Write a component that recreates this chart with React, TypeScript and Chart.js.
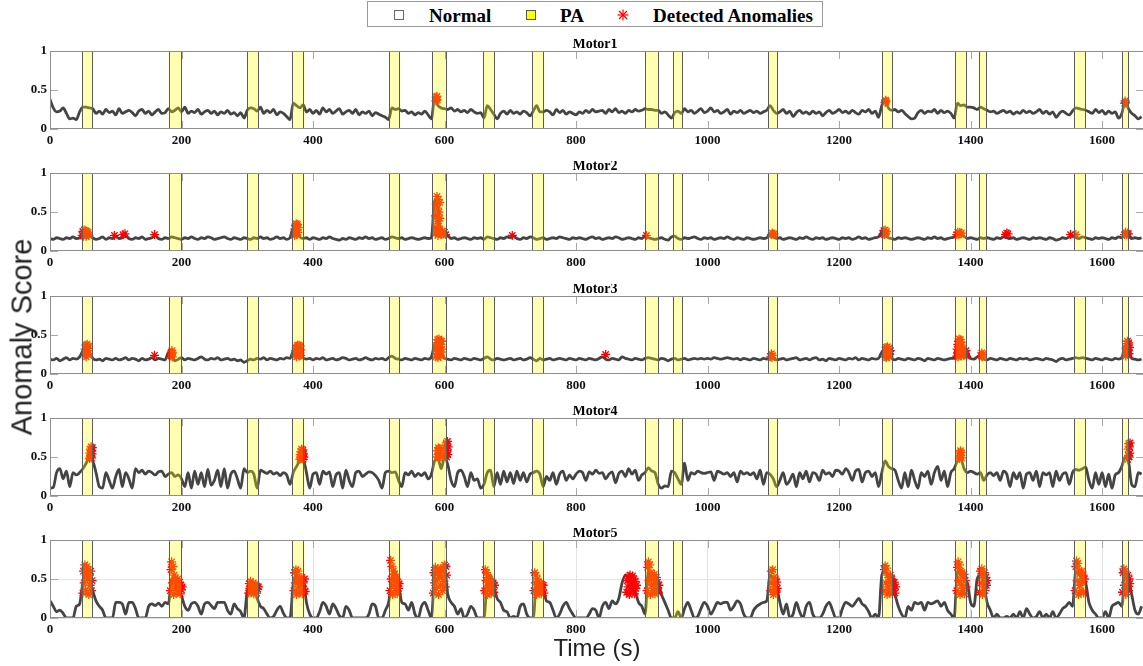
import React, { useEffect, useRef } from "react";
import { Chart, registerables } from "chart.js";

Chart.register(...registerables);

// ---------------- DATA ----------------
const STEP = 5; // seconds between score samples
const X_MAX = 1664;
const xTicks = [0, 200, 400, 600, 800, 1000, 1200, 1400, 1600];
const yTicks = [0, 0.5, 1];
const motorNames = ["Motor1", "Motor2", "Motor3", "Motor4", "Motor5"];

// PA (positive anomaly) intervals, seconds
const paStart = [48, 180.5, 299.5, 367.5, 515.5, 581, 658.5, 733.5, 905.5, 947, 1091.5, 1265, 1377, 1412.5, 1556.5, 1629.5];
const paEnd = [65.5, 200, 317.5, 387, 532.5, 603.5, 676.5, 751.5, 925.5, 962.5, 1107, 1282, 1395, 1425, 1575.5, 1641];

const scores1 = [
  0.38, 0.27, 0.22, 0.23, 0.27, 0.2, 0.13, 0.14, 0.12, 0.22, 0.28, 0.28, 0.27, 0.26, 0.2, 0.23, 0.19, 0.25, 0.21, 0.23,
  0.18, 0.26, 0.2, 0.22, 0.24, 0.21, 0.17, 0.23, 0.25, 0.2, 0.23, 0.18, 0.22, 0.25, 0.2, 0.21, 0.26, 0.22, 0.24, 0.27,
  0.22, 0.28, 0.2, 0.23, 0.21, 0.25, 0.19, 0.22, 0.24, 0.2, 0.23, 0.18, 0.22, 0.2, 0.24, 0.19, 0.21, 0.17, 0.21, 0.14,
  0.24, 0.27, 0.26, 0.23, 0.28, 0.2, 0.24, 0.21, 0.25, 0.18, 0.22, 0.2, 0.16, 0.12, 0.33, 0.3, 0.27, 0.31, 0.22, 0.25,
  0.2, 0.24, 0.19, 0.27, 0.22, 0.25, 0.2, 0.23, 0.26, 0.19, 0.22, 0.24, 0.2, 0.25, 0.18, 0.22, 0.2, 0.23, 0.17, 0.21,
  0.19, 0.17, 0.15, 0.12, 0.27, 0.25, 0.26, 0.23, 0.24, 0.2, 0.22, 0.18, 0.21, 0.19, 0.23, 0.18, 0.13, 0.4, 0.3, 0.27,
  0.26, 0.25, 0.27, 0.23, 0.25, 0.22, 0.24, 0.21, 0.25, 0.22, 0.2, 0.21, 0.14, 0.3, 0.25, 0.19, 0.13, 0.2, 0.23, 0.19,
  0.24, 0.2, 0.22, 0.19, 0.23, 0.21, 0.17, 0.23, 0.3, 0.22, 0.22, 0.24, 0.22, 0.18, 0.25, 0.21, 0.24, 0.19, 0.22, 0.2,
  0.18, 0.22, 0.2, 0.24, 0.21, 0.25, 0.22, 0.23, 0.24, 0.2, 0.25, 0.22, 0.26, 0.21, 0.23, 0.2, 0.24, 0.22, 0.25, 0.23,
  0.24, 0.26, 0.25, 0.25, 0.24, 0.24, 0.2, 0.22, 0.18, 0.14, 0.21, 0.23, 0.2, 0.26, 0.22, 0.24, 0.2, 0.23, 0.26, 0.21,
  0.23, 0.27, 0.22, 0.24, 0.2, 0.22, 0.25, 0.19, 0.23, 0.21, 0.24, 0.2, 0.22, 0.24, 0.21, 0.23, 0.2, 0.22, 0.24, 0.3,
  0.24, 0.2, 0.22, 0.25, 0.2, 0.23, 0.16, 0.21, 0.24, 0.2, 0.22, 0.19, 0.23, 0.2, 0.22, 0.17, 0.21, 0.24, 0.2, 0.22,
  0.25, 0.21, 0.23, 0.2, 0.24, 0.21, 0.19, 0.24, 0.22, 0.25, 0.2, 0.23, 0.15, 0.3, 0.36, 0.27, 0.24, 0.25, 0.22, 0.24,
  0.2, 0.16, 0.13, 0.14, 0.21, 0.24, 0.2, 0.23, 0.22, 0.25, 0.2, 0.24, 0.21, 0.23, 0.2, 0.14, 0.33, 0.3, 0.31, 0.28,
  0.28, 0.27, 0.25, 0.28, 0.26, 0.24, 0.22, 0.23, 0.2, 0.22, 0.24, 0.21, 0.23, 0.19, 0.22, 0.2, 0.24, 0.21, 0.23, 0.2,
  0.22, 0.25, 0.2, 0.23, 0.19, 0.22, 0.15, 0.2, 0.23, 0.2, 0.18, 0.23, 0.27, 0.26, 0.25, 0.24, 0.22, 0.2, 0.25, 0.21,
  0.24, 0.19, 0.23, 0.2, 0.22, 0.14, 0.2, 0.35, 0.26, 0.2, 0.17, 0.13, 0.16,
];

const scores2 = [
  0.16, 0.15, 0.17, 0.16, 0.15, 0.17, 0.16, 0.18, 0.16, 0.17, 0.22, 0.24, 0.2, 0.17, 0.15, 0.16, 0.18, 0.15, 0.17, 0.16,
  0.19, 0.16, 0.17, 0.2, 0.16, 0.15, 0.17, 0.16, 0.18, 0.15, 0.16, 0.17, 0.2, 0.16, 0.15, 0.17, 0.16, 0.18, 0.17, 0.16,
  0.15, 0.17, 0.16, 0.18, 0.16, 0.15, 0.17, 0.16, 0.18, 0.17, 0.15, 0.16, 0.17, 0.18, 0.16, 0.15, 0.17, 0.16, 0.15, 0.17,
  0.16, 0.15, 0.17, 0.16, 0.18, 0.16, 0.17, 0.15, 0.16, 0.18, 0.16, 0.17, 0.15, 0.17, 0.3, 0.28, 0.18, 0.16, 0.17, 0.15,
  0.17, 0.16, 0.15, 0.17, 0.16, 0.18, 0.16, 0.15, 0.14, 0.16, 0.15, 0.17, 0.16, 0.15, 0.17, 0.16, 0.18, 0.16, 0.17, 0.15,
  0.16, 0.17, 0.15, 0.16, 0.18, 0.17, 0.16, 0.17, 0.15, 0.16, 0.17, 0.16, 0.15, 0.16, 0.17, 0.16, 0.17, 0.65, 0.5, 0.23,
  0.22, 0.2, 0.16, 0.17, 0.15, 0.16, 0.17, 0.16, 0.15, 0.17, 0.16, 0.17, 0.15, 0.18, 0.17, 0.16, 0.15, 0.17, 0.16, 0.18,
  0.17, 0.19, 0.16, 0.15, 0.17, 0.16, 0.18, 0.17, 0.15, 0.16, 0.17, 0.15, 0.16, 0.17, 0.16, 0.18, 0.17, 0.16, 0.15, 0.17,
  0.16, 0.17, 0.16, 0.15, 0.17, 0.18, 0.16, 0.17, 0.15, 0.16, 0.17, 0.16, 0.18, 0.17, 0.15, 0.16, 0.17, 0.16, 0.15, 0.17,
  0.16, 0.19, 0.17, 0.16, 0.15, 0.16, 0.17, 0.15, 0.14, 0.18, 0.19, 0.16, 0.15, 0.17, 0.16, 0.17, 0.18, 0.16, 0.15, 0.17,
  0.16, 0.17, 0.15, 0.16, 0.17, 0.16, 0.18, 0.16, 0.15, 0.17, 0.16, 0.15, 0.17, 0.16, 0.15, 0.16, 0.17, 0.16, 0.17, 0.21,
  0.18, 0.16, 0.17, 0.15, 0.16, 0.17, 0.16, 0.15, 0.17, 0.16, 0.18, 0.16, 0.15, 0.17, 0.16, 0.17, 0.15, 0.16, 0.17, 0.16,
  0.15, 0.17, 0.16, 0.17, 0.15, 0.16, 0.18, 0.16, 0.17, 0.15, 0.16, 0.17, 0.18, 0.24, 0.2, 0.17, 0.16, 0.15, 0.17, 0.16,
  0.17, 0.16, 0.15, 0.16, 0.17, 0.16, 0.15, 0.17, 0.16, 0.18, 0.16, 0.17, 0.15, 0.16, 0.17, 0.18, 0.22, 0.21, 0.19, 0.16,
  0.17, 0.16, 0.15, 0.17, 0.16, 0.17, 0.16, 0.15, 0.17, 0.16, 0.18, 0.17, 0.16, 0.17, 0.15, 0.16, 0.17, 0.16, 0.15, 0.17,
  0.16, 0.17, 0.16, 0.15, 0.17, 0.16, 0.14, 0.15, 0.17, 0.16, 0.18, 0.19, 0.17, 0.16, 0.18, 0.17, 0.16, 0.15, 0.17, 0.16,
  0.17, 0.16, 0.15, 0.17, 0.16, 0.18, 0.17, 0.22, 0.19, 0.16, 0.17, 0.16, 0.17,
];

const scores3 = [
  0.19, 0.18, 0.2, 0.17, 0.19, 0.21, 0.18, 0.2, 0.19, 0.22, 0.3, 0.35, 0.28, 0.2, 0.18, 0.19, 0.17, 0.2, 0.19, 0.18,
  0.2, 0.18, 0.19, 0.21, 0.18, 0.2, 0.19, 0.17, 0.2, 0.18, 0.19, 0.21, 0.18, 0.2, 0.19, 0.18, 0.27, 0.25, 0.17, 0.19,
  0.21, 0.18, 0.2, 0.19, 0.18, 0.2, 0.22, 0.19, 0.18, 0.2, 0.19, 0.21, 0.18, 0.19, 0.2, 0.18, 0.19, 0.17, 0.18, 0.15,
  0.17, 0.19, 0.18, 0.2, 0.19, 0.21, 0.18, 0.2, 0.19, 0.18, 0.2, 0.19, 0.21, 0.2, 0.3, 0.33, 0.3, 0.21, 0.19, 0.2,
  0.18, 0.2, 0.19, 0.21, 0.18, 0.19, 0.2, 0.18, 0.19, 0.21, 0.2, 0.18, 0.19, 0.2, 0.18, 0.19, 0.21, 0.19, 0.18, 0.2,
  0.19, 0.2, 0.18, 0.21, 0.23, 0.2, 0.19, 0.18, 0.2, 0.19, 0.18, 0.2, 0.19, 0.18, 0.2, 0.19, 0.22, 0.38, 0.42, 0.3,
  0.2, 0.19, 0.18, 0.2, 0.19, 0.18, 0.2, 0.19, 0.18, 0.2, 0.19, 0.18, 0.2, 0.22, 0.19, 0.18, 0.2, 0.19, 0.18, 0.19,
  0.2, 0.18, 0.19, 0.2, 0.18, 0.19, 0.21, 0.19, 0.17, 0.2, 0.18, 0.19, 0.2, 0.18, 0.19, 0.2, 0.19, 0.18, 0.2, 0.19,
  0.18, 0.2, 0.19, 0.18, 0.2, 0.19, 0.18, 0.2, 0.22, 0.19, 0.18, 0.2, 0.19, 0.18, 0.22, 0.2, 0.19, 0.18, 0.2, 0.19,
  0.18, 0.2, 0.21, 0.2, 0.19, 0.18, 0.2, 0.19, 0.17, 0.19, 0.2, 0.18, 0.19, 0.2, 0.18, 0.19, 0.2, 0.19, 0.2, 0.19,
  0.2, 0.19, 0.21, 0.2, 0.19, 0.2, 0.21, 0.2, 0.19, 0.2, 0.18, 0.2, 0.19, 0.18, 0.2, 0.19, 0.18, 0.2, 0.19, 0.22,
  0.2, 0.18, 0.19, 0.2, 0.18, 0.19, 0.2, 0.21, 0.18, 0.19, 0.2, 0.18, 0.2, 0.21, 0.18, 0.19, 0.17, 0.2, 0.19, 0.18,
  0.2, 0.19, 0.18, 0.2, 0.19, 0.21, 0.18, 0.2, 0.19, 0.18, 0.2, 0.19, 0.2, 0.28, 0.3, 0.27, 0.2, 0.18, 0.2, 0.19,
  0.18, 0.2, 0.19, 0.18, 0.2, 0.19, 0.17, 0.2, 0.19, 0.18, 0.2, 0.19, 0.18, 0.19, 0.2, 0.2, 0.38, 0.4, 0.3, 0.27,
  0.2, 0.19, 0.22, 0.24, 0.19, 0.18, 0.2, 0.19, 0.18, 0.2, 0.19, 0.18, 0.2, 0.19, 0.18, 0.2, 0.19, 0.2, 0.18, 0.19,
  0.2, 0.19, 0.18, 0.2, 0.19, 0.18, 0.16, 0.19, 0.2, 0.18, 0.19, 0.2, 0.21, 0.2, 0.21, 0.2, 0.19, 0.18, 0.2, 0.19,
  0.18, 0.2, 0.19, 0.18, 0.2, 0.19, 0.21, 0.35, 0.3, 0.2, 0.19, 0.18, 0.19,
];

const scores4 = [
  0.1, 0.11, 0.3, 0.35, 0.22, 0.32, 0.12, 0.3, 0.27, 0.3, 0.35, 0.42, 0.5, 0.45, 0.3, 0.12, 0.1, 0.3, 0.2, 0.1,
  0.25, 0.34, 0.12, 0.3, 0.22, 0.1, 0.35, 0.3, 0.33, 0.28, 0.32, 0.3, 0.27, 0.31, 0.32, 0.25, 0.28, 0.3, 0.25, 0.27,
  0.22, 0.12, 0.3, 0.1, 0.32, 0.15, 0.3, 0.12, 0.34, 0.14, 0.2, 0.33, 0.12, 0.35, 0.1, 0.28, 0.32, 0.22, 0.1, 0.35,
  0.3, 0.32, 0.28, 0.1, 0.33, 0.31, 0.29, 0.32, 0.28, 0.3, 0.26, 0.3, 0.27, 0.15, 0.3, 0.38, 0.45, 0.47, 0.3, 0.1,
  0.28, 0.3, 0.15, 0.32, 0.28, 0.31, 0.12, 0.27, 0.3, 0.1, 0.33, 0.2, 0.12, 0.3, 0.32, 0.25, 0.28, 0.31, 0.3, 0.26,
  0.2, 0.1, 0.3, 0.32, 0.3, 0.31, 0.2, 0.12, 0.3, 0.27, 0.32, 0.25, 0.29, 0.26, 0.3, 0.22, 0.28, 0.45, 0.48, 0.35,
  0.5, 0.4, 0.2, 0.12, 0.3, 0.33, 0.25, 0.12, 0.3, 0.2, 0.22, 0.1, 0.15, 0.3, 0.33, 0.12, 0.3, 0.15, 0.32, 0.18,
  0.3, 0.16, 0.32, 0.2, 0.3, 0.18, 0.28, 0.3, 0.32, 0.28, 0.12, 0.25, 0.2, 0.3, 0.15, 0.28, 0.32, 0.2, 0.27, 0.22,
  0.28, 0.32, 0.3, 0.2, 0.31, 0.28, 0.33, 0.29, 0.3, 0.22, 0.28, 0.31, 0.17, 0.29, 0.32, 0.25, 0.35, 0.28, 0.33, 0.2,
  0.27, 0.3, 0.36, 0.32, 0.3, 0.15, 0.1, 0.13, 0.12, 0.32, 0.3, 0.22, 0.15, 0.42, 0.2, 0.3, 0.28, 0.32, 0.3, 0.29,
  0.3, 0.31, 0.2, 0.32, 0.3, 0.28, 0.3, 0.25, 0.3, 0.18, 0.32, 0.28, 0.3, 0.27, 0.3, 0.22, 0.33, 0.15, 0.3, 0.28,
  0.22, 0.12, 0.2, 0.3, 0.15, 0.2, 0.28, 0.12, 0.3, 0.22, 0.32, 0.18, 0.3, 0.28, 0.2, 0.33, 0.28, 0.3, 0.25, 0.33,
  0.32, 0.28, 0.35, 0.3, 0.2, 0.32, 0.34, 0.18, 0.3, 0.32, 0.25, 0.3, 0.12, 0.3, 0.45, 0.38, 0.35, 0.33, 0.2, 0.1,
  0.3, 0.12, 0.33, 0.2, 0.1, 0.3, 0.25, 0.32, 0.15, 0.3, 0.38, 0.2, 0.32, 0.12, 0.3, 0.35, 0.45, 0.48, 0.35, 0.3,
  0.32, 0.3, 0.28, 0.3, 0.2, 0.27, 0.3, 0.26, 0.3, 0.2, 0.32, 0.28, 0.12, 0.3, 0.22, 0.3, 0.1, 0.28, 0.3, 0.2,
  0.32, 0.12, 0.3, 0.27, 0.3, 0.12, 0.32, 0.2, 0.28, 0.3, 0.15, 0.3, 0.34, 0.33, 0.35, 0.37, 0.2, 0.1, 0.3, 0.15,
  0.3, 0.12, 0.28, 0.1, 0.27, 0.3, 0.38, 0.5, 0.45, 0.15, 0.12, 0.3, 0.28,
];

const scores5 = [
  0.22, 0.15, 0.08, 0.1, 0.06, 0, 0, 0, 0.15, 0.18, 0.45, 0.6, 0.5, 0.35, 0.22, 0.15, 0.1, 0, 0, 0,
  0.2, 0.2, 0.18, 0.05, 0.2, 0.2, 0.12, 0, 0, 0, 0.15, 0.18, 0.16, 0.19, 0.15, 0.2, 0.18, 0.5, 0.45, 0.35,
  0.28, 0.15, 0.1, 0.18, 0.2, 0.15, 0.05, 0.18, 0.2, 0.16, 0.12, 0.2, 0.2, 0.2, 0.1, 0.05, 0.18, 0.12, 0.08, 0,
  0.35, 0.42, 0.38, 0.25, 0.15, 0.12, 0.05, 0, 0.02, 0.1, 0.15, 0.06, 0, 0, 0.45, 0.55, 0.45, 0.5, 0.2, 0.05,
  0, 0, 0.08, 0.2, 0.15, 0.05, 0.18, 0.12, 0.03, 0, 0.15, 0.1, 0, 0, 0, 0, 0, 0.05, 0.18, 0.15,
  0, 0, 0.1, 0.2, 0.5, 0.6, 0.45, 0.2, 0.18, 0.1, 0.2, 0.05, 0, 0.15, 0.2, 0.1, 0, 0.55, 0.6, 0.6,
  0.62, 0.3, 0.2, 0.15, 0.05, 0.12, 0, 0.05, 0.15, 0.1, 0, 0, 0, 0.5, 0.55, 0.4, 0.25, 0.2, 0.1, 0.08,
  0, 0.02, 0, 0.15, 0.18, 0.05, 0, 0, 0.5, 0.45, 0.38, 0.22, 0.2, 0.1, 0, 0.05, 0.15, 0.2, 0.12, 0.05,
  0, 0, 0, 0, 0.05, 0.12, 0.1, 0, 0.15, 0.2, 0.12, 0.22, 0.18, 0.25, 0.45, 0.55, 0.5, 0.45, 0.35, 0.2,
  0.15, 0.05, 0.6, 0.5, 0.5, 0.45, 0.3, 0.2, 0.1, 0, 0, 0.08, 0, 0.12, 0.2, 0.1, 0, 0.02, 0.12, 0.2,
  0.15, 0.05, 0.12, 0.2, 0.18, 0.2, 0.2, 0.1, 0.15, 0.22, 0.18, 0.05, 0, 0, 0.1, 0.15, 0.18, 0.2, 0.22, 0.55,
  0.5, 0.4, 0.2, 0.05, 0.18, 0, 0.05, 0.2, 0.08, 0, 0.15, 0.2, 0.05, 0, 0, 0.05, 0.15, 0.2, 0.1, 0,
  0, 0.12, 0.2, 0.18, 0.15, 0.2, 0.25, 0.18, 0.15, 0.08, 0, 0.05, 0, 0.55, 0.6, 0.5, 0.45, 0.3, 0.15, 0.05,
  0, 0.15, 0.1, 0.2, 0.18, 0.2, 0.1, 0.2, 0.18, 0.2, 0.22, 0.15, 0.2, 0.1, 0.05, 0, 0.6, 0.55, 0.5, 0.45,
  0.2, 0.15, 0.5, 0.55, 0.45, 0.2, 0.1, 0, 0.05, 0, 0, 0.02, 0, 0.05, 0, 0.08, 0, 0.12, 0.05, 0,
  0.02, 0.08, 0, 0.05, 0, 0.08, 0, 0.05, 0.12, 0.15, 0.2, 0.15, 0.6, 0.55, 0.5, 0.45, 0.2, 0.1, 0.05, 0,
  0, 0.08, 0, 0.15, 0.18, 0.2, 0.15, 0.55, 0.5, 0.3, 0.1, 0.05, 0.15,
];

// Detected anomalies, [time, score]
const anomalies1 = [
  [587, 0.36], [587.5, 0.41], [588, 0.38], [588.5, 0.42], [589, 0.37],
  [1270, 0.34], [1270.5, 0.37], [1271, 0.35], [1271.5, 0.36],
  [1634.5, 0.33], [1635, 0.36], [1635.5, 0.34],
];

const anomalies2 = [
  [49, 0.2], [50, 0.25], [51, 0.19], [52, 0.27], [53, 0.22], [54, 0.26], [55, 0.19], [56, 0.25], [57, 0.21], [58, 0.24], [59, 0.2],
  [98, 0.2], [111, 0.21], [114, 0.22], [159, 0.21],
  [372, 0.2], [372.5, 0.28], [373, 0.23], [373.5, 0.33], [374, 0.26], [374.5, 0.35], [375, 0.21], [375.5, 0.31], [376, 0.27], [376.5, 0.34], [377, 0.24], [377.5, 0.3],
  [586, 0.22], [586.5, 0.45], [587, 0.3], [587.5, 0.6], [588, 0.25], [588.5, 0.7], [589, 0.38], [589.5, 0.55], [590, 0.2], [590.5, 0.66], [591, 0.32], [591.5, 0.5], [592, 0.27], [592.5, 0.62], [593, 0.42],
  [594, 0.24], [595.5, 0.21], [597, 0.25], [598.5, 0.22], [600, 0.24], [601.5, 0.21],
  [703, 0.2], [907, 0.2],
  [1097, 0.21], [1098.5, 0.23], [1100, 0.21], [1101, 0.22],
  [1267, 0.22], [1268, 0.26], [1269, 0.21], [1270, 0.27], [1271, 0.23], [1272, 0.25],
  [1379, 0.21], [1380.5, 0.24], [1382, 0.21], [1383.5, 0.24], [1385, 0.22], [1386, 0.23],
  [1453, 0.21], [1455, 0.23], [1457, 0.22],
  [1552, 0.21], [1560, 0.21],
  [1634, 0.21], [1635.5, 0.24], [1637, 0.21], [1638.5, 0.23], [1640, 0.22],
];

const anomalies3 = [
  [53, 0.24], [53.5, 0.32], [54, 0.27], [54.5, 0.37], [55, 0.22], [55.5, 0.35], [56, 0.29], [56.5, 0.38], [57, 0.25], [57.5, 0.33], [58, 0.3], [58.5, 0.36],
  [159, 0.24],
  [184, 0.23], [184.5, 0.28], [185, 0.25], [185.5, 0.3], [186, 0.22], [186.5, 0.27],
  [373, 0.24], [373.5, 0.3], [374, 0.27], [374.5, 0.33], [375, 0.22], [375.5, 0.35], [376, 0.28], [376.5, 0.37], [377, 0.25], [377.5, 0.32], [378, 0.29], [378.5, 0.37], [379, 0.23], [379.5, 0.34], [380, 0.27], [380.5, 0.36], [381, 0.24], [381.5, 0.31],
  [587, 0.22], [587.5, 0.33], [588, 0.26], [588.5, 0.4], [589, 0.29], [589.5, 0.44], [590, 0.21], [590.5, 0.37], [591, 0.31], [591.5, 0.45], [592, 0.25], [592.5, 0.41], [593, 0.34], [593.5, 0.43], [594, 0.23], [594.5, 0.38], [595, 0.28], [595.5, 0.42], [596, 0.32],
  [845, 0.25],
  [1096, 0.22], [1097, 0.26], [1098, 0.21], [1098.5, 0.24],
  [1270, 0.22], [1270.5, 0.3], [1271, 0.26], [1271.5, 0.34], [1272, 0.21], [1272.5, 0.32], [1273, 0.28], [1273.5, 0.35], [1274, 0.24], [1274.5, 0.31], [1275, 0.27], [1275.5, 0.33], [1276, 0.22], [1276.5, 0.29], [1277, 0.25], [1278, 0.3],
  [1379, 0.23], [1379.5, 0.32], [1380, 0.27], [1380.5, 0.38], [1381, 0.22], [1381.5, 0.42], [1382, 0.3], [1382.5, 0.45], [1383, 0.25], [1383.5, 0.4], [1384, 0.35], [1384.5, 0.44], [1385, 0.28], [1385.5, 0.41], [1386, 0.23], [1386.5, 0.37], [1387, 0.32], [1388, 0.26], [1389, 0.3], [1390, 0.24], [1391, 0.29], [1392, 0.25], [1393, 0.3], [1394, 0.23],
  [1416.5, 0.23], [1417, 0.27], [1418, 0.22], [1418.5, 0.25],
  [1636, 0.23], [1636.5, 0.33], [1637, 0.27], [1637.5, 0.39], [1638, 0.3], [1638.5, 0.42], [1639, 0.25], [1639.5, 0.36], [1640, 0.31], [1640.5, 0.4], [1641, 0.26], [1641.5, 0.34],
];

const anomalies4 = [
  [60, 0.48], [60.5, 0.55], [61, 0.5], [61.5, 0.6], [62, 0.52], [62.5, 0.63], [63, 0.49], [63.5, 0.58], [64, 0.54], [64.5, 0.62],
  [380, 0.47], [380.5, 0.53], [381, 0.49], [381.5, 0.57], [382, 0.51], [382.5, 0.6], [383, 0.48], [383.5, 0.55], [384, 0.52], [384.5, 0.59], [385, 0.47], [385.5, 0.54], [386, 0.5],
  [589, 0.5], [589.5, 0.58], [590, 0.53], [590.5, 0.62], [591, 0.49], [591.5, 0.6], [592, 0.55], [592.5, 0.61], [593, 0.51],
  [601, 0.52], [601.5, 0.62], [602, 0.55], [602.5, 0.68], [603, 0.5], [603.5, 0.65], [604, 0.58], [604.5, 0.7], [605, 0.53], [605.5, 0.63],
  [1383, 0.48], [1383.5, 0.55], [1384, 0.5], [1384.5, 0.58], [1385, 0.52], [1385.5, 0.56], [1386, 0.49],
  [1639, 0.47], [1639.5, 0.6], [1640, 0.52], [1640.5, 0.67], [1641, 0.5], [1641.5, 0.63], [1642, 0.55], [1642.5, 0.68],
];

// Motor5 anomaly clusters: first time of each cluster and its 1-s samples
const anom5Start = [50, 183, 302, 371, 517, 583, 661, 736, 877, 908, 1096, 1268, 1379, 1414, 1559, 1631];
const anom5Vals = [
  [0.32, 0.6, 0.45, 0.68, 0.36, 0.55, 0.66, 0.5, 0.62, 0.3, 0.55, 0.42, 0.6, 0.35, 0.48],
  [0.35, 0.62, 0.72, 0.45, 0.66, 0.3, 0.55, 0.5, 0.4, 0.48, 0.33, 0.5, 0.43, 0.38, 0.46, 0.31, 0.42, 0.36, 0.4],
  [0.32, 0.44, 0.38, 0.47, 0.33, 0.42, 0.36, 0.45, 0.31, 0.4, 0.35, 0.43, 0.32, 0.41, 0.37, 0.4],
  [0.35, 0.58, 0.45, 0.62, 0.3, 0.52, 0.6, 0.4, 0.5, 0.33, 0.48, 0.42, 0.52, 0.31, 0.45, 0.37, 0.5, 0.34],
  [0.35, 0.74, 0.5, 0.66, 0.3, 0.6, 0.42, 0.56, 0.35, 0.5, 0.45, 0.31, 0.46, 0.38, 0.44],
  [0.32, 0.58, 0.45, 0.65, 0.38, 0.6, 0.5, 0.63, 0.3, 0.55, 0.62, 0.42, 0.6, 0.52, 0.35, 0.64, 0.47, 0.68, 0.4, 0.66, 0.55],
  [0.35, 0.62, 0.48, 0.58, 0.3, 0.52, 0.42, 0.5, 0.36, 0.46, 0.31, 0.47, 0.4, 0.45, 0.33, 0.42],
  [0.35, 0.58, 0.45, 0.55, 0.3, 0.5, 0.38, 0.46, 0.33, 0.44, 0.4, 0.31, 0.43, 0.36, 0.42, 0.32],
  [0.33, 0.48, 0.4, 0.53, 0.3, 0.55, 0.45, 0.52, 0.36, 0.54, 0.42, 0.5, 0.31, 0.47, 0.38, 0.42],
  [0.35, 0.65, 0.72, 0.48, 0.68, 0.3, 0.58, 0.42, 0.55, 0.35, 0.5, 0.56, 0.31, 0.45, 0.52, 0.38, 0.46, 0.33, 0.42],
  [0.35, 0.6, 0.45, 0.62, 0.3, 0.52, 0.4, 0.5, 0.33, 0.46, 0.38],
  [0.35, 0.62, 0.67, 0.45, 0.64, 0.3, 0.55, 0.4, 0.52, 0.33, 0.55, 0.46, 0.5, 0.31, 0.45, 0.38, 0.46, 0.32, 0.4],
  [0.35, 0.65, 0.72, 0.48, 0.68, 0.3, 0.6, 0.42, 0.58, 0.35, 0.52, 0.56, 0.31, 0.48, 0.4],
  [0.33, 0.6, 0.45, 0.63, 0.3, 0.55, 0.4, 0.58, 0.35, 0.52, 0.42, 0.48],
  [0.35, 0.66, 0.73, 0.48, 0.7, 0.3, 0.6, 0.42, 0.58, 0.35, 0.6, 0.46, 0.55, 0.32, 0.5],
  [0.33, 0.58, 0.63, 0.42, 0.6, 0.3, 0.52, 0.4, 0.55, 0.35, 0.5, 0.44],
];

const allScores = [scores1, scores2, scores3, scores4, scores5];
const anomalies5 = anom5Start.flatMap((s, c) => anom5Vals[c].map((v, j) => [s + j, v]));
const allAnomalies = [anomalies1, anomalies2, anomalies3, anomalies4, anomalies5];

// ---------------- LAYOUT ----------------
const PANEL_TOPS = [51, 173, 296, 418, 540];
const PAD_TOP = 12;
const PLOT_H = 78;
const X_AXIS_H = 20;
const Y_AXIS_W = 50;
const CANVAS_W = 1150;
const CANVAS_H = PAD_TOP + PLOT_H + X_AXIS_H;
const SERIF = '"Liberation Serif", "Times New Roman", serif';
const SANS = '"Liberation Sans", Arial, sans-serif';

function makeOverlay(title: string) {
  return {
    id: "overlay",
    afterDatasetsDraw(chart: any) {
      const { ctx, chartArea: a, scales } = chart;
      const xs = scales.x;
      ctx.save();
      ctx.beginPath();
      ctx.rect(a.left, a.top, a.right - a.left, a.bottom - a.top);
      ctx.clip();
      for (let i = 0; i < paStart.length; i++) {
        const x0 = xs.getPixelForValue(paStart[i]);
        const x1 = xs.getPixelForValue(paEnd[i]);
        ctx.fillStyle = "rgba(255,255,0,0.3)";
        ctx.fillRect(x0, a.top, x1 - x0, a.bottom - a.top);
        ctx.strokeStyle = "#5c5c5c";
        ctx.lineWidth = 1;
        ctx.beginPath();
        ctx.moveTo(Math.round(x0) + 0.5, a.top);
        ctx.lineTo(Math.round(x0) + 0.5, a.bottom);
        ctx.moveTo(Math.round(x1) - 0.5, a.top);
        ctx.lineTo(Math.round(x1) - 0.5, a.bottom);
        ctx.stroke();
      }
      ctx.restore();
    },
    afterDraw(chart: any) {
      const { ctx, chartArea: a, scales } = chart;
      ctx.save();
      ctx.strokeStyle = "#a8a8a8";
      ctx.lineWidth = 1;
      ctx.beginPath();
      const TL = 8;
      for (const v of xTicks) {
        const px = Math.round(scales.x.getPixelForValue(v)) + 0.5;
        ctx.moveTo(px, a.top);
        ctx.lineTo(px, a.top + TL);
        ctx.moveTo(px, a.bottom);
        ctx.lineTo(px, a.bottom - TL);
      }
      for (const v of yTicks) {
        const py = Math.round(scales.y.getPixelForValue(v)) + 0.5;
        ctx.moveTo(a.left, py);
        ctx.lineTo(a.left + TL, py);
        ctx.moveTo(a.right, py);
        ctx.lineTo(a.right - TL, py);
      }
      ctx.stroke();
      ctx.strokeStyle = "#8e8e8e";
      ctx.strokeRect(a.left + 0.5, a.top + 0.5, a.right - a.left - 1, a.bottom - a.top - 1);
      ctx.fillStyle = "#000";
      ctx.font = `bold 14px ${SERIF}`;
      ctx.textAlign = "center";
      ctx.textBaseline = "alphabetic";
      ctx.fillText(title, 595, a.top - 3);
      ctx.restore();
    },
  };
}

function Panel({ idx }: { idx: number }) {
  const ref = useRef<HTMLCanvasElement>(null);
  useEffect(() => {
    const isLast = idx === 4;
    const tickFont = { family: SERIF, size: 13, weight: "bold" as const };
    const gridColor = "#e3e3e3";
    const chart = new Chart(ref.current as HTMLCanvasElement, {
      type: "scatter",
      data: {
        datasets: [
          {
            label: "Detected Anomalies",
            data: allAnomalies[idx].map((p) => ({ x: p[0], y: p[1] })),
            showLine: false,
            pointStyle: "star",
            pointRadius: 4.5,
            pointBorderWidth: 1.3,
            borderColor: "rgb(255,0,0)",
            backgroundColor: "rgb(255,0,0)",
            order: 0,
          },
          {
            label: "Normal",
            data: allScores[idx].map((v, i) => ({ x: i * STEP, y: v })),
            showLine: true,
            borderColor: "#444444",
            borderWidth: 2.8,
            pointRadius: 0,
            tension: 0.4,
            cubicInterpolationMode: "monotone",
            order: 1,
          },
        ],
      },
      options: {
        animation: false,
        responsive: false,
        maintainAspectRatio: false,
        devicePixelRatio: 1,
        events: [],
        layout: { padding: { top: PAD_TOP, right: CANVAS_W - 1145, left: 0, bottom: 0 } },
        plugins: { legend: { display: false }, tooltip: { enabled: false }, title: { display: false } },
        scales: {
          x: {
            type: "linear",
            min: 0,
            max: X_MAX,
            afterBuildTicks: (s: any) => {
              s.ticks = xTicks.map((v) => ({ value: v }));
            },
            afterFit: (s: any) => {
              s.height = X_AXIS_H;
            },
            grid: { display: isLast, color: gridColor, drawTicks: false },
            border: { display: false },
            ticks: {
              font: tickFont,
              color: "#111",
              padding: 4,
              maxRotation: 0,
              autoSkip: false,
              callback: (v: any) => String(v),
            },
          },
          y: {
            type: "linear",
            min: 0,
            max: 1,
            afterBuildTicks: (s: any) => {
              s.ticks = yTicks.map((v) => ({ value: v }));
            },
            afterFit: (s: any) => {
              s.width = Y_AXIS_W;
            },
            grid: { display: isLast, color: gridColor, drawTicks: false },
            border: { display: false },
            ticks: {
              font: tickFont,
              color: "#111",
              padding: 3,
              callback: (v: any) => String(v),
            },
          },
        },
      },
      plugins: [makeOverlay(motorNames[idx])],
    } as any);
    return () => chart.destroy();
  }, [idx]);
  return (
    <canvas
      ref={ref}
      width={CANVAS_W}
      height={CANVAS_H}
      style={{
        position: "absolute",
        left: 0,
        top: PANEL_TOPS[idx] - PAD_TOP,
        width: CANVAS_W,
        height: CANVAS_H,
        display: "block",
      }}
    />
  );
}

function Legend() {
  const txt: React.CSSProperties = {
    position: "absolute",
    top: 3,
    fontFamily: SERIF,
    fontWeight: "bold",
    fontSize: 19,
    lineHeight: "22px",
    color: "#000",
    whiteSpace: "nowrap",
  };
  return (
    <div
      style={{
        position: "absolute",
        left: 367,
        top: 1,
        width: 456,
        height: 26,
        border: "1px solid #9a9a9a",
        background: "#fff",
        boxSizing: "border-box",
      }}
    >
      <div style={{ position: "absolute", left: 26, top: 8, width: 10, height: 10, border: "1px solid #6a6a6a", background: "#fff", boxSizing: "border-box" }} />
      <div style={{ ...txt, left: 61 }}>Normal</div>
      <div style={{ position: "absolute", left: 158, top: 8, width: 10, height: 10, border: "1px solid #555", background: "#ffff00", boxSizing: "border-box" }} />
      <div style={{ ...txt, left: 192 }}>PA</div>
      <svg style={{ position: "absolute", left: 249, top: 7 }} width={12} height={12} viewBox="0 0 12 12">
        <g stroke="#ff0000" strokeWidth={1.2}>
          <line x1={6} y1={0.5} x2={6} y2={11.5} />
          <line x1={0.5} y1={6} x2={11.5} y2={6} />
          <line x1={2} y1={2} x2={10} y2={10} />
          <line x1={10} y1={2} x2={2} y2={10} />
        </g>
      </svg>
      <div style={{ ...txt, left: 285 }}>Detected Anomalies</div>
    </div>
  );
}

export default function App() {
  return (
    <div
      style={{
        position: "fixed",
        left: 0,
        top: 0,
        width: 1143,
        height: 666,
        overflow: "hidden",
        background: "#fff",
      }}
    >
      <Legend />
      {[0, 1, 2, 3, 4].map((i) => (
        <Panel key={i} idx={i} />
      ))}
      <div
        style={{
          position: "absolute",
          left: 22,
          top: 337,
          transform: "translate(-50%, -50%) rotate(-90deg)",
          fontFamily: SANS,
          fontSize: 29,
          color: "#222",
          whiteSpace: "nowrap",
        }}
      >
        Anomaly Score
      </div>
      <div
        style={{
          position: "absolute",
          left: 597,
          top: 648,
          transform: "translate(-50%, -50%)",
          fontFamily: SANS,
          fontSize: 24,
          color: "#222",
          whiteSpace: "nowrap",
        }}
      >
        Time (s)
      </div>
    </div>
  );
}
